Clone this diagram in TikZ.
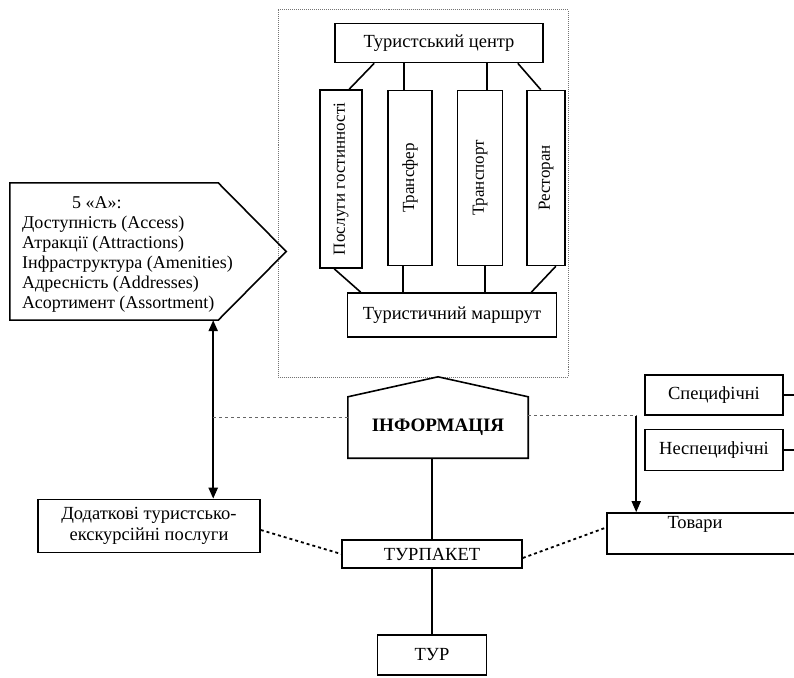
\documentclass[tikz,border=0pt]{standalone}
\usepackage{fontspec}
\usepackage{graphicx}
\setmainfont{Liberation Serif}
\usetikzlibrary{arrows.meta,calc}
\begin{document}
\begin{tikzpicture}[x=1bp,y=-1bp,
  txt/.style={font=\fontsize{18.5bp}{21bp}\selectfont},
  vtxt/.style={font=\fontsize{17bp}{20bp}\selectfont},
  box/.style={draw,line width=1.6pt,inner sep=0pt,txt},
  frame/.style={draw=black!55,densely dotted,line width=1pt},
  dsh/.style={draw=black!60,dashed,line width=0.9pt},
  dshk/.style={draw,dashed,line width=1.8pt},
  con/.style={draw,line width=1.6pt},
  arr/.style={con,-{Triangle[length=11bp,width=9bp]}},
  dbl/.style={draw,line width=2.2pt,{Triangle[length=11bp,width=9bp]}-{Triangle[length=11bp,width=9bp]}},
]
\useasboundingbox (0,0) rectangle (794,678);

% outer dotted frame
\draw[frame] (278,10) rectangle (568,377);

% top block
\node[box,minimum width=208bp,minimum height=39bp] (centre) at (439,43) {Туристський центр};
\node[box,vtxt,minimum width=42bp,minimum height=178bp] (v1) at (341,179) {\rotatebox{90}{Послуги гостинності}};
\node[box,vtxt,minimum width=44bp,minimum height=175bp] (v2) at (410,178) {\rotatebox{90}{Трансфер}};
\node[box,vtxt,minimum width=45bp,minimum height=175bp] (v3) at (480,178) {\rotatebox{90}{Транспорт}};
\node[box,vtxt,minimum width=38bp,minimum height=175bp] (v4) at (546,178) {\rotatebox{90}{Ресторан}};
\node[box,minimum width=209bp,minimum height=44bp] (route) at (452,315) {Туристичний маршрут};

\draw[con] ([xshift=40bp]centre.south west) -- ([xshift=30bp]v1.north west);
\draw[con] ([xshift=-6bp]v2.north) -- ([xshift=-6bp]v2.north |- centre.south);
\draw[con] ([xshift=7bp]v3.north) -- ([xshift=7bp]v3.north |- centre.south);
\draw[con] ([xshift=-26bp]centre.south east) -- ([xshift=-25bp]v4.north east);
\draw[con] ([xshift=15bp]v1.south west) -- ([xshift=14bp]route.north west);
\draw[con] ([xshift=-7bp]v2.south) -- ([xshift=-7bp]v2.south |- route.north);
\draw[con] ([xshift=5bp]v3.south) -- ([xshift=5bp]v3.south |- route.north);
\draw[con] ([xshift=-10bp]v4.south east) -- ([xshift=-26bp]route.north east);

% 5 A pentagon
\node[minimum width=208bp,minimum height=137bp,inner sep=0pt] (fa) at (114,251.5) {};
\draw[con] (fa.north west) -- (fa.north east) -- ([xshift=68bp]fa.east) -- (fa.south east) -- (fa.south west) -- cycle;
\node[font=\fontsize{18bp}{20bp}\selectfont,align=left,anchor=west,inner sep=0pt] (fatext) at (22,254)
 {\hspace*{50bp}5 «А»:\\ Доступність (Access)\\ Атракції (Attractions)\\ Інфраструктура (Amenities)\\ Адресність (Addresses)\\ Асортимент (Assortment)};

% information house shape
\node[font=\fontsize{19bp}{21bp}\selectfont\bfseries,minimum width=180bp,minimum height=61bp,inner sep=0pt] (info) at (438,427.5) {ІНФОРМАЦІЯ};
\draw[con] (info.south west) -- (info.north west) -- ([yshift=20bp]info.north) -- (info.north east) -- (info.south east) -- cycle;

% lower nodes
\node[box,align=center,minimum width=222bp,minimum height=53bp] (dod) at (149,526) {Додаткові туристсько-\\екскурсійні послуги};
\node[box,minimum width=180bp,minimum height=28bp] (tp) at (432,554) {ТУРПАКЕТ};
\node[box,minimum width=109bp,minimum height=40bp] (tur) at (432,655) {ТУР};
\node[box,minimum width=138bp,minimum height=40bp] (spec) at (714,395) {Специфічні};
\node[box,minimum width=138bp,minimum height=41bp] (nespec) at (714,450) {Неспецифічні};
\node[box,minimum width=203bp,minimum height=41bp] (tovary) at (708.5,533.5) {};
\node[txt,anchor=north] (tovt) at (695,513) {Товари};

\draw[con] (spec.east) -- ++(20,0);
\draw[con] (nespec.east) -- ++(20,0);

% connectors
\coordinate (arrx) at ([xshift=-5bp]fa.south east);
\draw[dbl] (arrx) -- (arrx |- dod.north);
\coordinate (infol) at ([yshift=10bp]info.west);
\draw[dsh] (arrx |- infol) -- (infol);
\coordinate (infor) at ([yshift=12bp]info.east);
\coordinate (downx) at ([xshift=30bp]tovary.north west);
\draw[dsh] (infor) -- (infor -| downx);
\draw[arr] (infor -| downx) -- (downx);
\draw[con] (tp.north) -- (tp.north |- info.south);
\draw[con] (tp.south) -- (tur.north);
\draw[dshk] ([yshift=-4bp]dod.east) -- (tp.west);
\draw[dshk] ([yshift=-4bp]tp.east) -- ([yshift=6bp]tovary.west);
\end{tikzpicture}
\end{document}
